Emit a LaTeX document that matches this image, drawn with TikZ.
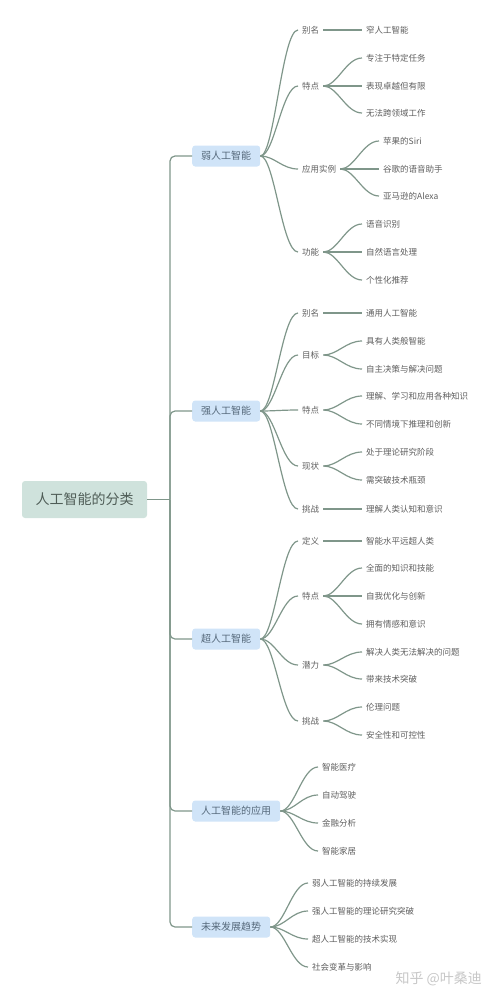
\documentclass[tikz,border=0pt]{standalone}
\usepackage{fontspec}
\setmainfont{Noto Sans CJK SC}

\definecolor{branchgreen}{HTML}{7F968A}
\definecolor{rootfill}{HTML}{CFE2DC}
\definecolor{roottext}{HTML}{4F5D57}
\definecolor{topicfill}{HTML}{D0E4F8}
\definecolor{topictext}{HTML}{56697B}
\definecolor{leaftext}{HTML}{5E5E5E}

\tikzset{
  root/.style = {fill=rootfill, rounded corners=3pt, text=roottext,
    font=\fontsize{14}{16}\selectfont, minimum width=125pt, minimum height=37pt},
  topic/.style = {anchor=west, fill=topicfill, rounded corners=3pt, text=topictext,
    font=\fontsize{10}{12}\selectfont, minimum height=21pt, inner xsep=9pt},
  sub/.style = {anchor=west, text=leaftext, font=\fontsize{8.5}{10}\selectfont,
    inner xsep=4pt},
  leaf/.style = {sub},
  branch/.style = {draw=branchgreen, line width=1.2pt},
}
\newcommand\twig[2]{\draw[branch] (#1.east) .. controls +(14,0) and +(-16,0) .. (#2.west);}

\begin{document}
\begin{tikzpicture}[x=1pt, y=-1pt]
\useasboundingbox (0,0) rectangle (500,999);

% root and main branches
\node[root] (ai) at (84.5,499.5) {人工智能的分类};
\coordinate (hub) at (170,499.5);
\node[topic] (weak)   at (192,156) {弱人工智能};
\node[topic] (strong) at (192,411) {强人工智能};
\node[topic] (super)  at (192,639) {超人工智能};
\node[topic] (apps)   at (192,811) {人工智能的应用};
\node[topic] (trend)  at (192,927) {未来发展趋势};

\draw[branch] (ai) -- (hub);
\foreach \t in {weak,strong,super,apps,trend}
  \draw[branch, rounded corners=5pt] (hub) |- (\t.west);

% weak AI
\node[sub] (w1) at (298,30)  {别名};
\node[sub] (w2) at (298,86)  {特点};
\node[sub] (w3) at (298,169) {应用实例};
\node[sub] (w4) at (298,252) {功能};
\node[leaf] (w11) at (362,30)  {窄人工智能};
\node[leaf] (w21) at (362,58)  {专注于特定任务};
\node[leaf] (w22) at (362,86)  {表现卓越但有限};
\node[leaf] (w23) at (362,113) {无法跨领域工作};
\node[leaf] (w31) at (379,141) {苹果的Siri};
\node[leaf] (w32) at (379,169) {谷歌的语音助手};
\node[leaf] (w33) at (379,196) {亚马逊的Alexa};
\node[leaf] (w41) at (362,224) {语音识别};
\node[leaf] (w42) at (362,252) {自然语言处理};
\node[leaf] (w43) at (362,280) {个性化推荐};

% strong AI
\node[sub] (s1) at (298,313) {别名};
\node[sub] (s2) at (298,355) {目标};
\node[sub] (s3) at (298,410) {特点};
\node[sub] (s4) at (298,466) {现状};
\node[sub] (s5) at (298,509) {挑战};
\node[leaf] (s11) at (362,313) {通用人工智能};
\node[leaf] (s21) at (362,341) {具有人类般智能};
\node[leaf] (s22) at (362,369) {自主决策与解决问题};
\node[leaf] (s31) at (362,396) {理解、学习和应用各种知识};
\node[leaf] (s32) at (362,424) {不同情境下推理和创新};
\node[leaf] (s41) at (362,452) {处于理论研究阶段};
\node[leaf] (s42) at (362,480) {需突破技术瓶颈};
\node[leaf] (s51) at (362,509) {理解人类认知和意识};

% super AI
\node[sub] (u1) at (298,541) {定义};
\node[sub] (u2) at (298,596) {特点};
\node[sub] (u3) at (298,665) {潜力};
\node[sub] (u4) at (298,721) {挑战};
\node[leaf] (u11) at (362,541) {智能水平远超人类};
\node[leaf] (u21) at (362,568) {全面的知识和技能};
\node[leaf] (u22) at (362,596) {自我优化与创新};
\node[leaf] (u23) at (362,624) {拥有情感和意识};
\node[leaf] (u31) at (362,652) {解决人类无法解决的问题};
\node[leaf] (u32) at (362,679) {带来技术突破};
\node[leaf] (u41) at (362,707) {伦理问题};
\node[leaf] (u42) at (362,735) {安全性和可控性};

% applications
\node[leaf] (a1) at (318,767) {智能医疗};
\node[leaf] (a2) at (318,795) {自动驾驶};
\node[leaf] (a3) at (318,823) {金融分析};
\node[leaf] (a4) at (318,851) {智能家居};

% trends
\node[leaf] (t1) at (308,883) {弱人工智能的持续发展};
\node[leaf] (t2) at (308,911) {强人工智能的理论研究突破};
\node[leaf] (t3) at (308,939) {超人工智能的技术实现};
\node[leaf] (t4) at (308,967) {社会变革与影响};

\foreach \a/\b in {weak/w1, weak/w2, weak/w3, weak/w4,
    w1/w11, w2/w21, w2/w22, w2/w23, w3/w31, w3/w32, w3/w33, w4/w41, w4/w42, w4/w43,
    strong/s1, strong/s2, strong/s3, strong/s4, strong/s5,
    s1/s11, s2/s21, s2/s22, s3/s31, s3/s32, s4/s41, s4/s42, s5/s51,
    super/u1, super/u2, super/u3, super/u4,
    u1/u11, u2/u21, u2/u22, u2/u23, u3/u31, u3/u32, u4/u41, u4/u42,
    apps/a1, apps/a2, apps/a3, apps/a4,
    trend/t1, trend/t2, trend/t3, trend/t4}
  \twig{\a}{\b};

\node[anchor=west, text=black!22, font=\fontsize{14}{16}\selectfont] (mark) at (392,979) {知乎 @叶桑迪};
\end{tikzpicture}
\end{document}
